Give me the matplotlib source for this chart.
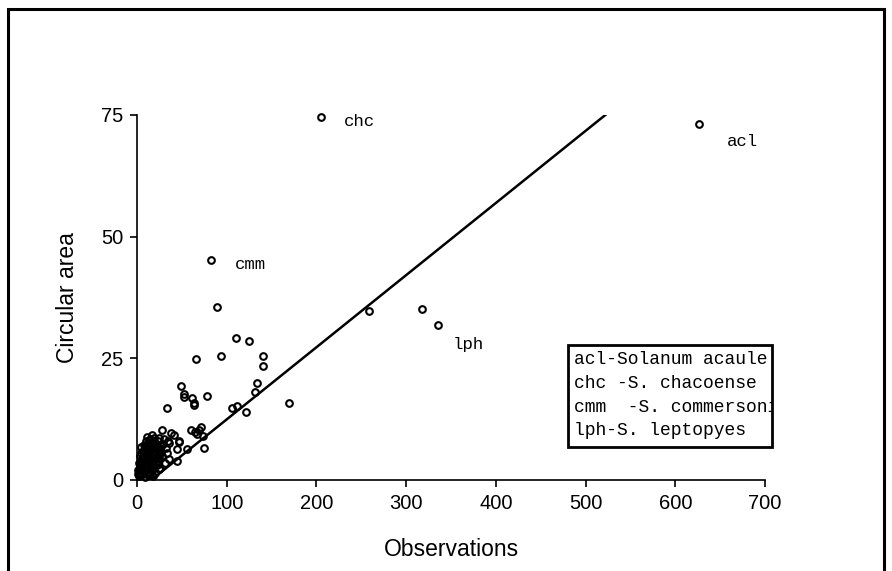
import matplotlib.pyplot as plt
from matplotlib.patches import Rectangle

# observations (x) vs circular area (y)
obs = [1, 2, 2, 3, 3, 4, 4, 5, 5, 5, 6, 6, 7, 7, 8, 8, 9, 9, 10, 10,
       11, 11, 11.5, 12, 13, 13, 14, 14, 15, 15, 16, 17, 17, 18, 18, 19, 20, 20, 21, 22,
       23, 24, 25, 26, 27, 28, 28, 30, 31, 32, 34, 36, 36, 37.6, 41, 45, 45, 47, 47, 56,
       60, 65, 67, 69, 71, 74, 75, 33.8, 48.7, 52.4, 52.4, 61.7, 63.5, 63.5, 78.4, 65.8, 93.3,
       110, 125, 140, 140, 134, 132, 106, 112, 121, 169.5, 89.5, 82, 205, 259, 318, 335, 627,
       3, 6, 9, 12, 16, 19, 22, 25,
       1, 2, 4, 6, 7, 8, 9, 10, 11, 12, 13, 14, 15, 16, 17, 18, 19, 20, 21, 22, 23, 24, 26, 29,
       3, 5, 8, 10, 12, 14, 17, 19, 24, 27, 33]
area = [1.2, 0.8, 2.0, 1.5, 3.0, 2.2, 4.0, 1.0, 3.5, 5.5, 2.5, 4.5, 1.8, 6.0, 3.2, 5.0, 2.0, 7.0, 4.2, 6.5,
        1.5, 3.0, 8.9, 5.5, 2.5, 7.5, 4.0, 6.0, 1.0, 3.5, 5.0, 9.2, 2.0, 6.5, 0.8, 4.0, 7.5, 1.5, 5.5, 3.0,
        8.0, 6.0, 4.5, 2.5, 7.0, 10.3, 5.0, 8.5, 3.5, 6.5, 8.0, 4.3, 7.7, 9.6, 9.2, 6.3, 4.0, 8.0, 7.9, 6.3,
        10.2, 9.9, 9.4, 10.2, 10.8, 9.0, 6.5, 14.8, 19.3, 17.6, 17.1, 16.9, 15.9, 15.4, 17.2, 24.8, 25.5,
        29.2, 28.5, 25.5, 23.5, 19.9, 18.1, 14.8, 15.2, 13.9, 15.9, 35.5, 45.3, 74.5, 34.8, 35.1, 31.8, 73.1,
        2.6, 1.2, 0.6, 1.0, 2.8, 3.0, 4.6, 5.2,
        2.0, 3.5, 1.5, 3.5, 4.8, 2.0, 5.5, 3.0, 6.2, 4.0, 5.8, 2.0, 7.2, 3.8, 5.6, 2.6, 6.0, 4.6, 7.0, 6.4,
        3.8, 2.2, 6.6, 7.4,
        5.0, 6.8, 7.2, 8.0, 7.0, 8.4, 7.8, 8.6, 8.6, 5.8, 5.6]

# fitted line end points
fit_x = [16, 522]
fit_y = [0, 75]

labels = ['chc', 'cmm', 'lph', 'acl']
label_x = [231, 109, 352, 657]
label_y = [73.6, 44.2, 27.8, 69.5]

legend_lines = ['acl-Solanum acaule', 'chc -S. chacoense', 'cmm  -S. commersonii', 'lph-S. leptopyes']

mono = 'Liberation Mono'
sans = 'Liberation Sans'

fig = plt.figure(figsize=(8.92, 5.71), dpi=100)
ax = fig.add_axes([0.1536, 0.1594, 0.704, 0.6392])

ax.plot(obs, area, 'o', mfc='none', mec='black', ms=4.8, mew=1.5, clip_on=False)
ax.plot(fit_x, fit_y, color='black', lw=1.8)

for t, x, y in zip(labels, label_x, label_y):
    ax.text(x, y, t, family=mono, fontsize=12.5, va='center')

ax.set_xlim(0, 700)
ax.set_ylim(0, 75)
ax.set_xticks(range(0, 701, 100))
ax.set_yticks([0, 25, 50, 75])
ax.spines['top'].set_visible(False)
ax.spines['right'].set_visible(False)
ax.spines['left'].set_linewidth(1.2)
ax.spines['bottom'].set_linewidth(1.2)
ax.tick_params(direction='out', length=5, width=1.2, labelsize=14.5, pad=5)
for lab in ax.get_xticklabels() + ax.get_yticklabels():
    lab.set_family(sans)
ax.set_xlabel('Observations', family=sans, fontsize=16.5, labelpad=18)
ax.set_ylabel('Circular area', family=sans, fontsize=16.5, labelpad=16)

# legend box drawn by hand
box = Rectangle((0.637, 0.217), 0.229, 0.179, transform=fig.transFigure,
                fill=False, edgecolor='black', lw=2)
fig.patches.append(box)
for i, s in enumerate(legend_lines):
    t = fig.text(0.644, 1 - (360 + i * 23.5) / 571, s, family=mono, fontsize=13, va='center')
    t.set_clip_path(box)

# outer frame of the figure
frame = Rectangle((8 / 892, -0.05), 876 / 892, 1.05 - 9 / 571, transform=fig.transFigure,
                  fill=False, edgecolor='black', lw=2.2)
fig.patches.append(frame)

fig.savefig('out.png', dpi=100)
